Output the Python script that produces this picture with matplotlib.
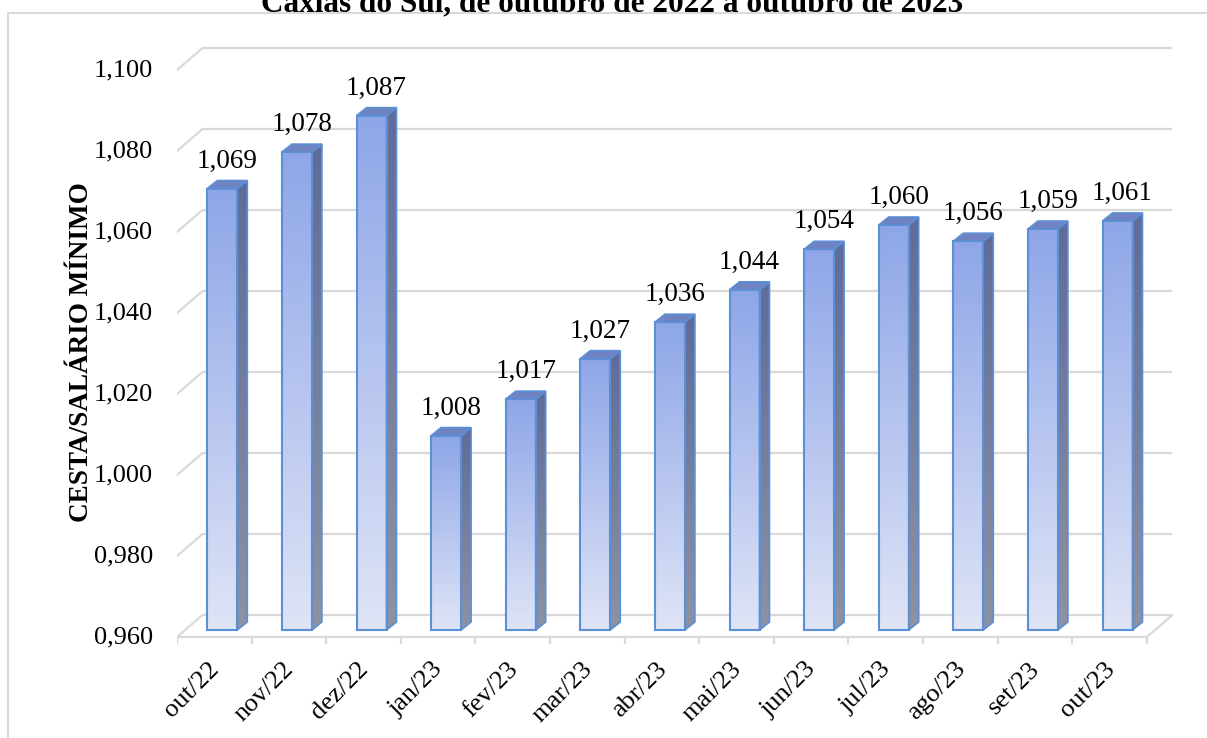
import numpy as np
import matplotlib.pyplot as plt
from matplotlib.patches import Polygon, Rectangle
from matplotlib.colors import to_rgb

meses = ['out/22', 'nov/22', 'dez/22', 'jan/23', 'fev/23', 'mar/23', 'abr/23',
         'mai/23', 'jun/23', 'jul/23', 'ago/23', 'set/23', 'out/23']
valores = [1.069, 1.078, 1.087, 1.008, 1.017, 1.027, 1.036,
           1.044, 1.054, 1.060, 1.056, 1.059, 1.061]
yticks = [0.960, 0.980, 1.000, 1.020, 1.040, 1.060, 1.080, 1.100]

titulo = 'Caxias do Sul, de outubro de 2022 a outubro de 2023'
ylabel = 'CESTA/SALÁRIO MÍNIMO'

plt.rcParams['font.family'] = ['Liberation Serif', 'DejaVu Serif']

W, H = 1207, 738
fig = plt.figure(figsize=(W / 100, H / 100), dpi=100)

# pixel scale of the pseudo 3d plot
px_x = 74.6      # pixels per category
px_y = 4050.0    # pixels per value unit
ax_l, ax_r, ax_t, ax_b = 177, 1180, 40, 645
ax = fig.add_axes([ax_l / W, (H - ax_b) / H, (ax_r - ax_l) / W, (ax_b - ax_t) / H])
ymin = 0.96
xlim = (0, (ax_r - ax_l) / px_x)
ylim = (ymin - (ax_b - 637) / px_y, ymin + (637 - ax_t) / px_y)
ax.axis('off')

# depth offset of the floor / walls (in data units)
ddx = 25 / px_x
ddy = 21.5 / px_y
n = len(meses)
grid_c = '#d9d9d9'
fs = 19

# back wall gridlines + left diagonals
for v in yticks:
    ax.plot([ddx, n + ddx], [v + ddy, v + ddy], color=grid_c, lw=1.6,
            solid_capstyle='butt', zorder=1)
    ax.plot([0, ddx], [v, v + ddy], color=grid_c, lw=1.6, zorder=1)
    ax.text(-24 / px_x, v, f'{v:.3f}'.replace('.', ','), ha='right', va='center',
            fontsize=fs, color='#000000')

# floor
ax.plot([0, n], [ymin, ymin], color=grid_c, lw=1.6, zorder=1)
ax.plot([n, n + ddx], [ymin, ymin + ddy], color=grid_c, lw=1.6, zorder=1)
for i in range(n + 1):
    ax.plot([i, i], [ymin, ymin - 6 / px_y], color=grid_c, lw=1.6, zorder=1)

# bars
top_c = np.array(to_rgb('#8ea6e8'))
bot_c = np.array(to_rgb('#dfe4f6'))
side_top = np.array(to_rgb('#5f6c98'))
side_bot = np.array(to_rgb('#8d92a3'))
edge_c = '#5b8fd6'
bw = 30 / px_x
off_x, off_y = 8 / px_x, 7 / px_y      # bar front relative to front floor edge
dep_x, dep_y = 10 / px_x, 8 / px_y     # bar depth

grad = np.linspace(0, 1, 200)[:, None]
front_img = (top_c[None, None, :] * (1 - grad[..., None]) + bot_c[None, None, :] * grad[..., None])
side_img = (side_top[None, None, :] * (1 - grad[..., None]) + side_bot[None, None, :] * grad[..., None])

for i, v in enumerate(valores):
    x0 = i + 0.5 - bw / 2 + off_x
    x1 = x0 + bw
    y0 = ymin + off_y
    y1 = v + off_y
    ax.imshow(front_img, extent=[x0, x1, y0, y1], aspect='auto', origin='upper',
              zorder=3, interpolation='bilinear')
    ax.add_patch(Rectangle((x0, y0), bw, y1 - y0, fill=False, ec=edge_c, lw=1.5, zorder=4))
    side = Polygon([(x1, y0), (x1 + dep_x, y0 + dep_y), (x1 + dep_x, y1 + dep_y), (x1, y1)],
                   closed=True, transform=ax.transData)
    im = ax.imshow(side_img, extent=[x1, x1 + dep_x, y0, y1 + dep_y], aspect='auto',
                   origin='upper', zorder=3, interpolation='bilinear')
    im.set_clip_path(side)
    ax.add_patch(Polygon(side.get_xy(), closed=True, fill=False, ec=edge_c, lw=1.2, zorder=4))
    ax.add_patch(Polygon([(x0, y1), (x1, y1), (x1 + dep_x, y1 + dep_y), (x0 + dep_x, y1 + dep_y)],
                         closed=True, fc='#6f83c2', ec=edge_c, lw=1.2, zorder=4))
    ax.text((x0 + x1) / 2 + dep_x / 2, y1 + dep_y + 7 / px_y, f'{v:.3f}'.replace('.', ','),
            ha='center', va='bottom', fontsize=19.5, color='#000000')
    ax.text(i + 0.5 - 6 / px_x, ymin - 21 / px_y, meses[i], rotation=45,
            rotation_mode='anchor', ha='right', va='top', fontsize=fs)

ax.set_xlim(*xlim)
ax.set_ylim(*ylim)

ax.text(-95 / px_x, 1.0304, ylabel, rotation=90, ha='center', va='center',
        fontsize=19.5, fontweight='bold')

# outer border and title
fig.patches.append(Rectangle((8 / W, -0.1), 1.2, 1 - 13 / H + 0.1, transform=fig.transFigure,
                             fill=False, ec='#d9d9d9', lw=1.5))
fig.text(612 / W, 1 - 11 / H, titulo, ha='center', va='baseline', fontsize=22.5,
         fontweight='bold')

fig.savefig('out.png', dpi=100)
